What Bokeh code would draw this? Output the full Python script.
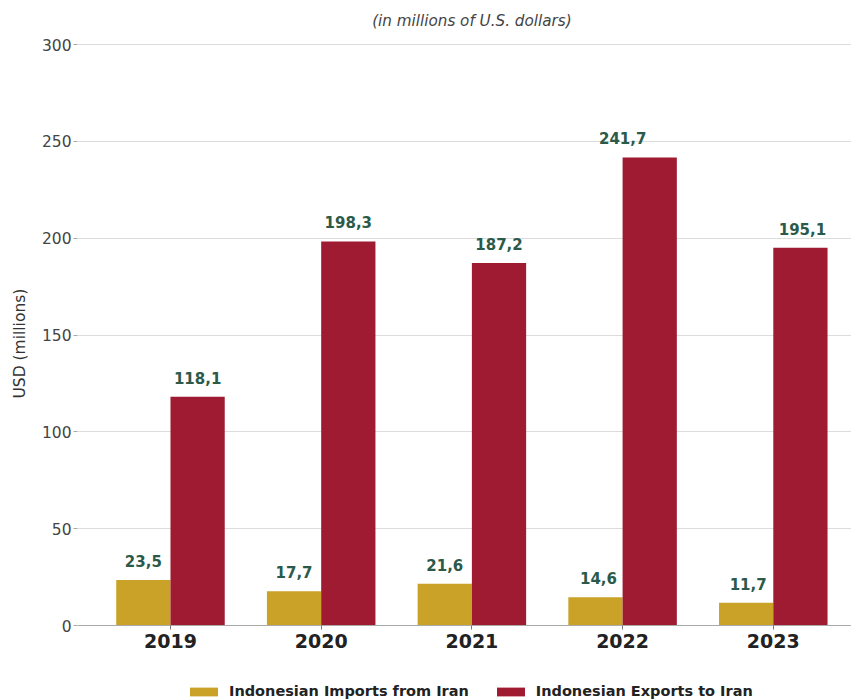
from bokeh.plotting import figure
from bokeh.models import ColumnDataSource, Range1d, Legend, LegendItem, FixedTicker, Label, Title
from bokeh.core.properties import value
from bokeh.embed import file_html
from bokeh.resources import INLINE

years = ["2019", "2020", "2021", "2022", "2023"]
imports = [23.5, 17.7, 21.6, 14.6, 11.7]
exports = [118.1, 198.3, 187.2, 241.7, 195.1]
series_names = ["Indonesian Imports from Iran", "Indonesian Exports to Iran"]
y_ticks = [0, 50, 100, 150, 200, 250, 300]
subtitle = "(in millions of U.S. dollars)"
y_label = "USD (millions)"

FONT = "DejaVu Sans"
GOLD = "#C9A227"
RED = "#9E1B32"
LABEL_GREEN = "#2B5A4A"
BW = 0.36

# frame geometry: frame spans the full figure height; value 0 sits 75px above
# the bottom and value 300 sits 44px below the top
W, H = 851, 700
LEFT = 77
PX_PER_UNIT = 581 / 300.0
Y0_PX = 625
y_start = -(H - Y0_PX) / PX_PER_UNIT
y_end = Y0_PX / PX_PER_UNIT

idx = list(range(len(years)))
src_imp = ColumnDataSource(dict(
    x=[i - BW / 2 for i in idx], top=imports,
    txt=[f"{v:.1f}".replace(".", ",") for v in imports],
    xo=[0, 0, 0, 3, 2]))
src_exp = ColumnDataSource(dict(
    x=[i + BW / 2 for i in idx], top=exports,
    txt=[f"{v:.1f}".replace(".", ",") for v in exports],
    xo=[0, 0, 0, -27, 2]))

p = figure(width=W, height=H, output_backend="svg", toolbar_location=None,
           x_range=Range1d(-0.617, 4.519), y_range=Range1d(y_start, y_end),
           min_border_left=LEFT, min_border_right=0, min_border_top=0, min_border_bottom=0)
p.outline_line_color = None
p.background_fill_color = "white"

r1 = p.vbar(x="x", top="top", width=BW, source=src_imp, fill_color=GOLD, line_color=None)
r2 = p.vbar(x="x", top="top", width=BW, source=src_exp, fill_color=RED, line_color=None)

for s in (src_imp, src_exp):
    p.text(x="x", y="top", text="txt", source=s, x_offset="xo", y_offset=-13,
           text_align="center", text_baseline="bottom",
           text_font=value(FONT), text_font_style="bold", text_font_size="15px",
           text_color=LABEL_GREEN)

# subtitle centred over the category span, 20px from the top
p.add_layout(Label(x=(idx[0] + idx[-1]) / 2, y=y_end, y_offset=-20,
                   text=subtitle, text_align="center", text_baseline="middle",
                   text_font=FONT, text_font_style="italic", text_font_size="15.2px",
                   text_color="#444444"))

# axes
p.xgrid.visible = False
p.ygrid.grid_line_color = "#DCDCDC"
p.ygrid.grid_line_width = 1
p.ygrid.ticker = FixedTicker(ticks=y_ticks)

p.yaxis.ticker = FixedTicker(ticks=y_ticks)
p.yaxis.axis_line_color = None
p.yaxis.major_tick_line_color = "#AAAAAA"
p.yaxis.major_tick_out = 4
p.yaxis.major_tick_in = 0
p.yaxis.minor_tick_line_color = None
p.yaxis.major_label_standoff = 2
p.yaxis.major_label_text_font = FONT
p.yaxis.major_label_text_font_size = "15.5px"
p.yaxis.major_label_text_color = "#444444"

# y-axis title, placed as a side title so it can sit slightly above the frame centre
p.add_layout(Title(text=y_label, align="left", offset=302, vertical_align="middle",
                   standoff=18, text_font=FONT, text_font_style="normal",
                   text_font_size="15.5px", text_color="#333333"), "left")

p.xaxis.fixed_location = 0
p.xaxis.ticker = FixedTicker(ticks=idx)
p.xaxis.major_label_overrides = {i: y for i, y in zip(idx, years)}
p.xaxis.axis_line_color = "#AAAAAA"
p.xaxis.major_tick_line_color = "#777777"
p.xaxis.major_tick_out = 4
p.xaxis.major_tick_in = 0
p.xaxis.minor_tick_line_color = None
p.xaxis.major_label_standoff = 4
p.xaxis.major_label_text_font = FONT
p.xaxis.major_label_text_font_style = "bold"
p.xaxis.major_label_text_font_size = "19px"
p.xaxis.major_label_text_color = "#222222"

legend = Legend(items=[LegendItem(label=series_names[0], renderers=[r1]),
                       LegendItem(label=series_names[1], renderers=[r2])],
                orientation="horizontal", location=(109, 1),
                glyph_width=35, glyph_height=11, label_height=16, label_standoff=8,
                spacing=24, padding=0, margin=0,
                label_text_font=FONT, label_text_font_style="bold",
                label_text_font_size="14.5px", label_text_color="#222222",
                border_line_color=None, background_fill_alpha=0)
p.add_layout(legend, "center")

open("out.html", "w").write(file_html(p, INLINE))
